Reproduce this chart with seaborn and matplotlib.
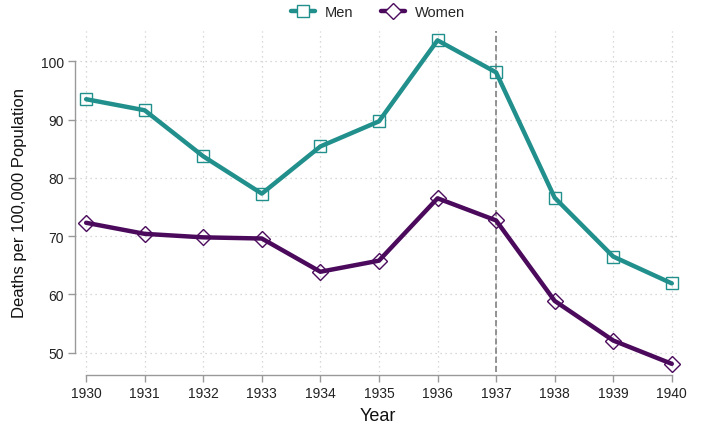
import matplotlib
matplotlib.use("Agg")
import matplotlib.pyplot as plt
import seaborn as sns
import pandas as pd
from matplotlib.lines import Line2D

years = [1930, 1931, 1932, 1933, 1934, 1935, 1936, 1937, 1938, 1939, 1940]
men = [93.5, 91.6, 83.7, 77.3, 85.4, 89.7, 103.6, 98.1, 76.6, 66.5, 61.9]
women = [72.3, 70.4, 69.8, 69.6, 63.9, 65.8, 76.5, 72.7, 58.9, 52.1, 48.1]
series = ["Men", "Women"]
yticks = [50, 60, 70, 80, 90, 100]

df = pd.DataFrame({
    "Year": years * 2,
    "Deaths": men + women,
    "Sex": ["Men"] * len(years) + ["Women"] * len(years),
})

sns.set_theme(style="white")
plt.rcParams["font.family"] = ["Liberation Sans", "DejaVu Sans"]

colors = {"Men": "#21908C", "Women": "#4B0A5C"}
markers = {"Men": "s", "Women": "D"}
msizes = {"Men": 9, "Women": 8.5}

fig = plt.figure(figsize=(7.02, 4.27), dpi=100)
ax = fig.add_axes([75 / 702, 1 - 373 / 427, (680 - 75) / 702, (373 - 32) / 427])

sns.lineplot(data=df, x="Year", y="Deaths", hue="Sex", palette=colors,
             linewidth=3.2, ax=ax, legend=False, zorder=3)
for ln in ax.get_lines():
    ln.set_clip_on(False)

for s, vals in zip(series, [men, women]):
    ax.plot(years, vals, linestyle="none", marker=markers[s], markersize=msizes[s],
            markerfacecolor="none", markeredgecolor=colors[s], markeredgewidth=1.0,
            zorder=2, clip_on=False)

ax.axvline(1937, color="#777777", linestyle=(0, (4, 2)), linewidth=1.1, zorder=1)

ax.set_xlim(1929.81, 1940.14)
ax.set_ylim(46.7, 105.2)
ax.set_xticks(years)
ax.set_xticklabels([str(y) for y in years])
ax.set_yticks(yticks)

ax.grid(True, color="#cccccc", linestyle=(0, (1, 3)), linewidth=0.9)
ax.set_axisbelow(True)

for side in ["top", "right"]:
    ax.spines[side].set_visible(False)
ax.spines["left"].set_bounds(50, 100)
ax.spines["bottom"].set_bounds(1930, 1940)
ax.spines["left"].set_color("#999999")
ax.spines["bottom"].set_color("#999999")
ax.spines["left"].set_linewidth(1.0)
ax.spines["bottom"].set_linewidth(1.0)
ax.spines["bottom"].set_position(("outward", 2))

ax.tick_params(axis="both", which="both", length=5, width=1, color="#999999",
               labelsize=10, labelcolor="#222222", pad=3, bottom=True, left=True)

ax.set_xlabel("Year", fontsize=13, labelpad=5, color="#111111")
ax.set_ylabel("Deaths per 100,000 Population", fontsize=12, labelpad=10, color="#111111")

handles = [Line2D([0], [0], color=colors[s], linewidth=3.2, marker=markers[s],
                  markersize=msizes[s] * 0.95, markerfacecolor="white",
                  markeredgecolor=colors[s], markeredgewidth=1.0) for s in series]
fig.legend(handles, series, loc="center", bbox_to_anchor=(378 / 702, 1 - 13 / 427),
           ncol=2, frameon=False, fontsize=10.5, handlelength=1.65, columnspacing=1.9,
           handletextpad=0.68)

fig.savefig("out.png", dpi=100)
